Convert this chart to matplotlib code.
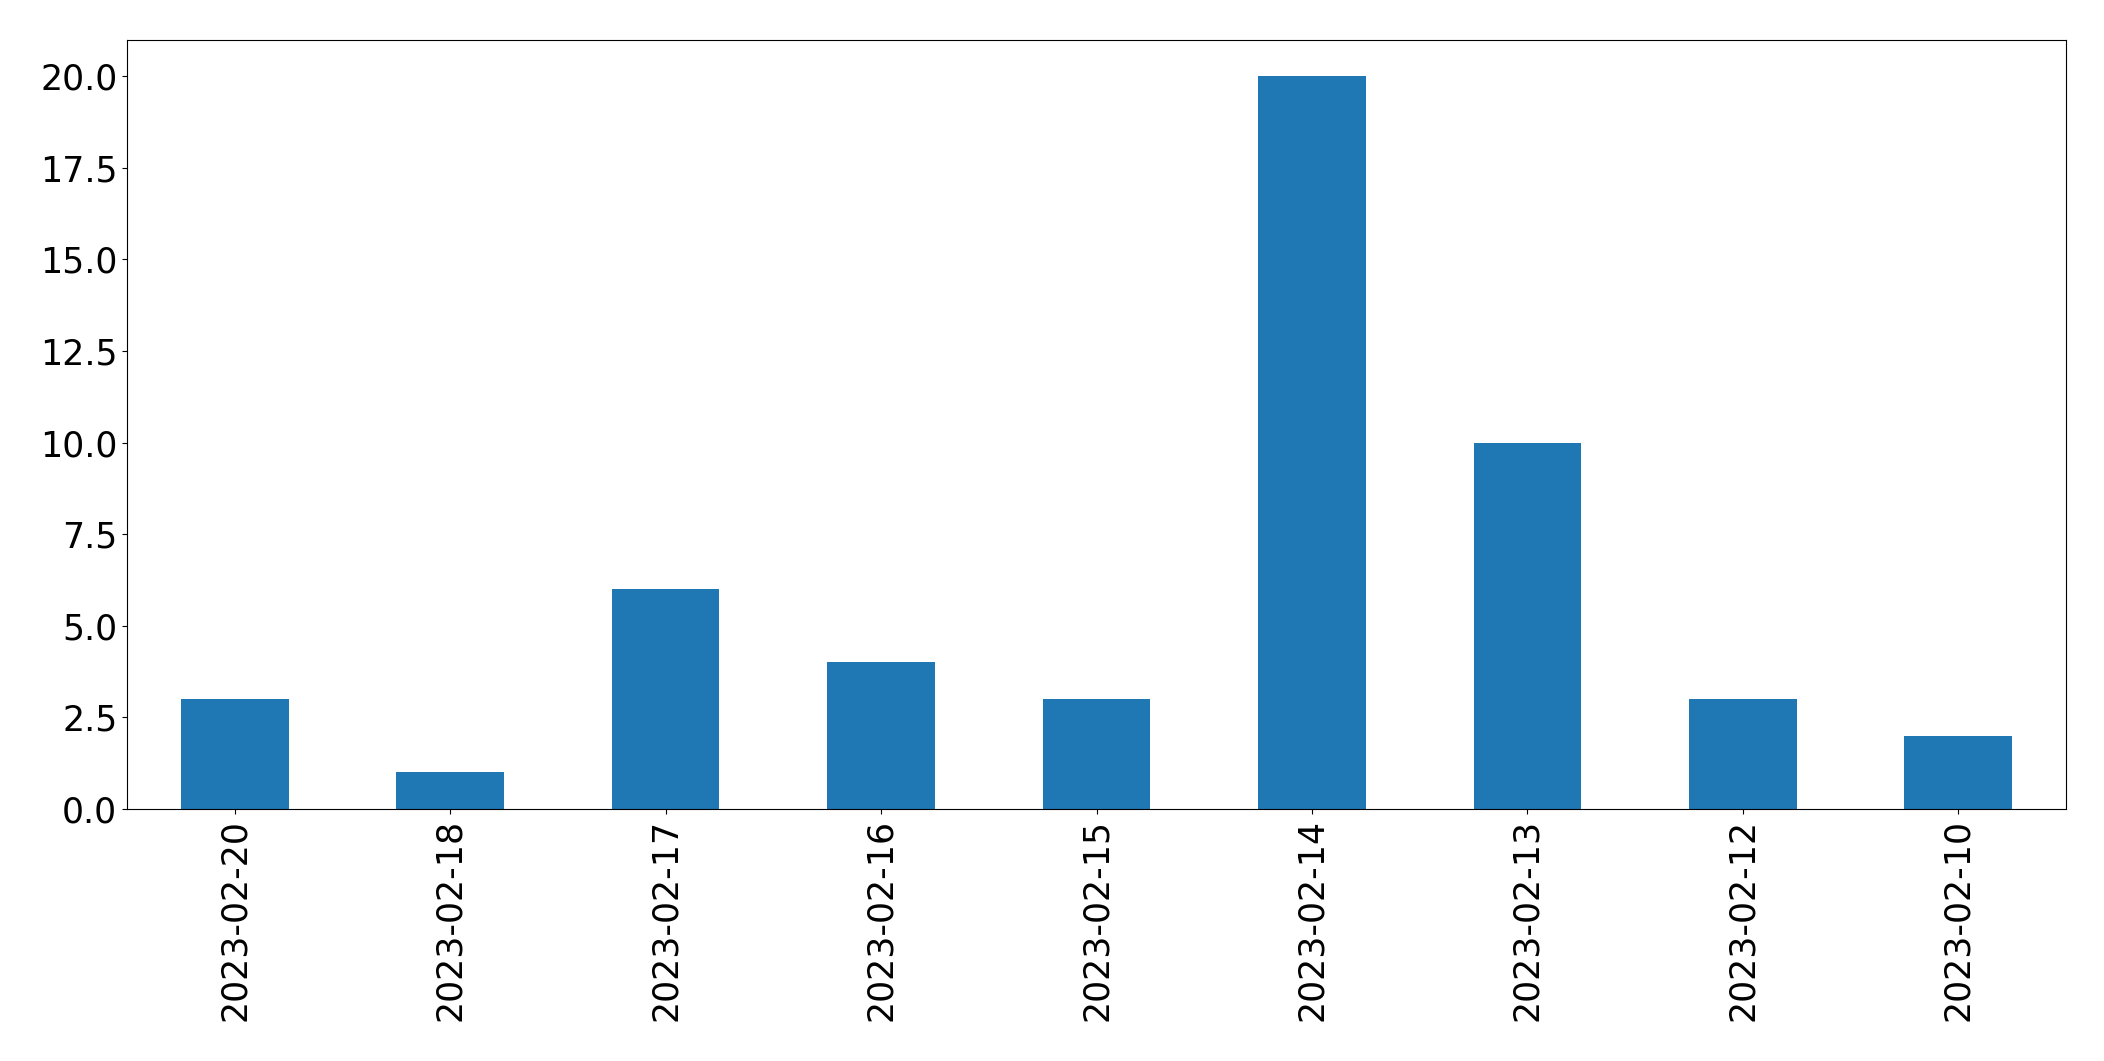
import matplotlib
matplotlib.use("Agg")
import matplotlib.pyplot as plt
import pandas as pd

dates = ['2023-02-20', '2023-02-18', '2023-02-17', '2023-02-16', '2023-02-15',
         '2023-02-14', '2023-02-13', '2023-02-12', '2023-02-10']
counts = [3, 1, 6, 4, 3, 20, 10, 3, 2]

s = pd.Series(counts, index=dates)

fig = plt.figure(figsize=(21.04, 10.61), dpi=100)
ax = fig.add_axes([127/2104, 252/1061, (2066-127)/2104, (809-39.5)/1061])
s.plot(kind='bar', ax=ax, fontsize=25)

fig.savefig('out.png', dpi=100)
